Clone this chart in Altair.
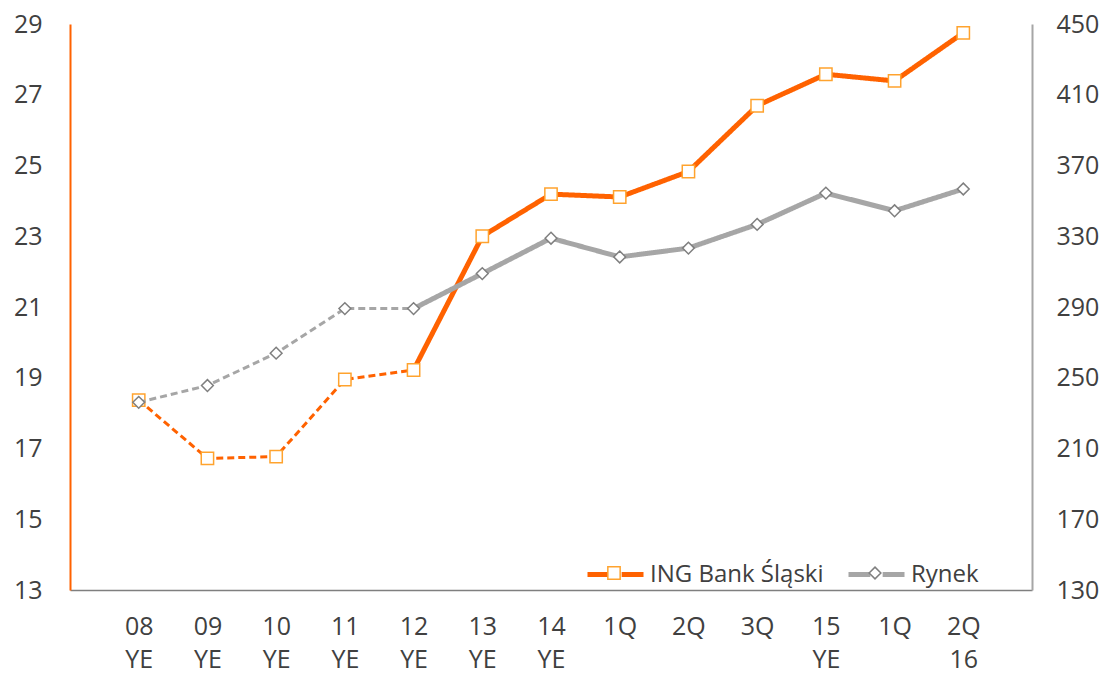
import altair as alt
import pandas as pd

categories = ["08 YE", "09 YE", "10 YE", "11 YE", "12 YE", "13 YE", "14 YE",
              "1Q", "2Q", "3Q", "15 YE", "1Q ", "2Q 16"]
ing_values = [18.37, 16.72, 16.77, 18.95, 19.22, 23.0, 24.19, 24.11, 24.83,
              26.69, 27.58, 27.39, 28.75]
rynek_values = [236.1, 245.6, 263.9, 289.1, 289.1, 308.9, 328.9, 318.3, 323.3,
                336.7, 354.4, 344.4, 356.7]
ING = "ING Bank Śląski"
RYN = "Rynek"
left_ticks = [13, 15, 17, 19, 21, 23, 25, 27, 29]
right_ticks = [130, 170, 210, 250, 290, 330, 370, 410, 450]

ORANGE = "#FF6200"
ORANGE_LIGHT = "#FFA32E"
GRAY = "#A6A6A6"
GRAY_DARK = "#7F7F7F"
TEXT = "#404040"
FONT = "Open Sans"

SQ_PATH = "M-0.22,-0.22L0.22,-0.22L0.22,0.22L-0.22,0.22Z"
DIA_PATH = "M0,-0.21L0.21,0L0,0.21L-0.21,0Z"
LINE_PATH = "M-1,0L-0.22,0M0.22,0L1,0"
SYM = 3136
LEG_Y = 520


def line_rows(values, name):
    rows = []
    for i, (c, v) in enumerate(zip(categories, values)):
        if i <= 4:
            rows.append(dict(cat=c, v=v, series=name, seg="dash", order=i))
        if i >= 4:
            rows.append(dict(cat=c, v=v, series=name, seg="solid", order=i))
    return pd.DataFrame(rows)


def point_rows(values, name):
    return pd.DataFrame([dict(cat=c, v=v, mk=name + " ", order=i)
                         for i, (c, v) in enumerate(zip(categories, values))])


x_scale = alt.Scale(type="point", padding=1)
axis_common = dict(orient="bottom", labelAngle=0, ticks=False, tickSize=0,
                   grid=False, labelFont=FONT, labelFontSize=25,
                   labelColor=TEXT, labelBaseline="top", labelPadding=24)

x_first = alt.X("cat:N", sort=categories, title=None, scale=x_scale,
                axis=alt.Axis(labelExpr="split(trim(datum.label), ' ')[0]",
                              domainColor=GRAY_DARK, domainWidth=1.5,
                              **axis_common))
x_second = alt.X("cat:N", sort=categories, title=None, scale=x_scale,
                 axis=alt.Axis(labelExpr="length(split(trim(datum.label), ' ')) > 1 ? split(trim(datum.label), ' ')[1] : ''",
                               offset=33, domain=False, **axis_common))


def y_enc(domain, ticks, orient, dcolor, pad):
    return alt.Y(
        "v:Q", title=None,
        scale=alt.Scale(domain=domain, nice=False, zero=False),
        axis=alt.Axis(orient=orient, values=ticks, grid=False, ticks=False,
                      tickSize=0, domainColor=dcolor, domainWidth=2,
                      labelPadding=pad, labelFont=FONT, labelFontSize=25,
                      labelColor=TEXT),
    )


def line_legend(lx):
    return alt.Legend(title=None, orient="none", legendX=lx, legendY=LEG_Y,
                      symbolType=LINE_PATH, symbolSize=SYM, symbolStrokeWidth=5,
                      labelFont=FONT, labelFontSize=24, labelColor=TEXT,
                      labelOffset=4, padding=0, labelLimit=400)


def marker_legend(lx, shape_path, stroke):
    return alt.Legend(title=None, orient="none", legendX=lx, legendY=LEG_Y,
                      symbolType=shape_path, symbolSize=SYM,
                      symbolFillColor="white", symbolStrokeColor=stroke,
                      symbolStrokeWidth=1.5, symbolOpacity=1,
                      labelExpr="''", labelOffset=4, padding=0)


dash_enc = alt.StrokeDash("seg:N", scale=alt.Scale(domain=["dash", "solid"],
                          range=[[7, 4], [1, 0]]), legend=None)
width_enc = alt.StrokeWidth("seg:O", scale=alt.Scale(domain=["dash", "solid"],
                            range=[3, 5]), legend=None)

y_left = y_enc([13, 29], left_ticks, "left", ORANGE, 28)
y_right = y_enc([130, 450], right_ticks, "right", GRAY, 24)


def series_layer(values, name, x_enc, y, lcolor, path, mcolor, lx):
    lines = alt.Chart(line_rows(values, name)).mark_line(strokeCap="butt").encode(
        x=x_enc, y=y,
        color=alt.Color("series:N", scale=alt.Scale(domain=[name], range=[lcolor]),
                        legend=line_legend(lx)),
        strokeDash=dash_enc, strokeWidth=width_enc, order="order:Q")
    pts = alt.Chart(point_rows(values, name)).mark_point(
        filled=True, shape=path, stroke=mcolor, size=SYM,
        strokeWidth=1.5, opacity=1).encode(
        x=x_enc, y=y,
        fill=alt.Fill("mk:N", scale=alt.Scale(domain=[name + " "], range=["white"]),
                      legend=marker_legend(lx, path, mcolor)))
    return alt.layer(lines, pts)


left = series_layer(ing_values, ING, x_first, y_left, ORANGE, SQ_PATH,
                    ORANGE_LIGHT, 515)
right = series_layer(rynek_values, RYN, x_second, y_right, GRAY, DIA_PATH,
                     GRAY_DARK, 776)

chart = alt.layer(left, right).resolve_scale(
    y="independent", color="independent", fill="independent"
).resolve_axis(x="independent").properties(
    width=962, height=566,
    padding={"left": 5, "top": 4, "right": 0, "bottom": 0},
    background="white",
).configure_view(strokeWidth=0)

chart.save("out.html", embed_options={"renderer": "svg", "actions": False})
